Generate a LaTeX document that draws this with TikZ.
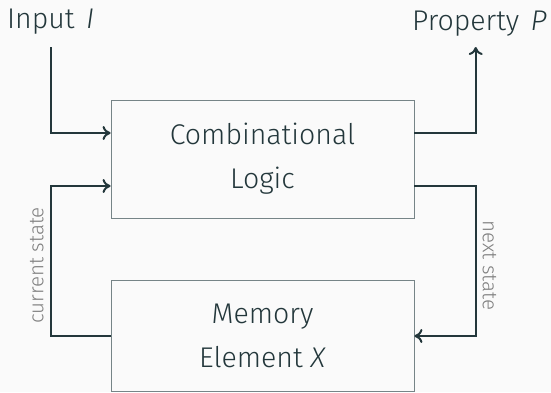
\documentclass[tikz,border=0pt]{standalone}
\usepackage{fontspec}
\setmainfont{Fira Sans}[UprightFont=* Light, ItalicFont=* Light Italic]
\usetikzlibrary{arrows.meta}
\definecolor{ink}{RGB}{35,55,59}
\definecolor{frame}{RGB}{118,132,135}
\definecolor{note}{RGB}{128,128,128}
\definecolor{paper}{RGB}{250,250,250}
\begin{document}
\begin{tikzpicture}[x=1pt,y=1pt,
  block/.style={draw=frame, line width=0.9pt, text=ink, align=center,
    inner sep=0pt, font=\fontsize{28.5}{44}\selectfont},
  io/.style={text=ink, inner sep=0pt, font=\fontsize{28.5}{34}\selectfont},
  wire/.style={draw=ink, line width=2pt},
  arrowed/.style={-{To[length=8pt,width=14pt]}},
  sidenote/.style={text=note, inner sep=6pt, sloped, anchor=south,
    font=\fontsize{20.5}{22}\selectfont}]
  % canvas
  \fill[paper] (0,0) rectangle (551,392);
  \useasboundingbox (0,0) rectangle (551,392);

  % blocks
  \node[block, minimum width=303pt, minimum height=118pt] (logic) at (262.5,233)
    {Combinational\\Logic};
  \node[block, minimum width=303pt, minimum height=111pt] (memory) at (262.5,56.5)
    {Memory\\Element \textit{X}};

  % terminals
  \node[io, anchor=base west] (input) at (7,363) {Input\hspace{0.12em} \textit{I}};
  \node[io, anchor=base east] (property) at (547,362) {Property\hspace{0.12em} \textit{P}};

  % routing points
  \coordinate (inTop) at (50.5,345);
  \coordinate (inCorner) at (50.5,259);
  \coordinate (outCorner) at (475.7,259);
  \coordinate (outTop) at (475.7,345);
  \coordinate (csBot) at (50.5,56);
  \coordinate (csTop) at (50.5,206);
  \coordinate (nsTop) at (475.7,206);
  \coordinate (nsBot) at (475.7,56);

  % input into the logic
  \draw[wire, arrowed] (inTop) -- (inCorner) -- (logic.west |- inCorner);
  % property out of the logic
  \draw[wire, arrowed] (logic.east |- outCorner) -- (outCorner) -- (outTop);
  % state feedback
  \draw[wire, arrowed] (memory.west |- csBot) -- (csBot)
    -- node[sidenote, pos=0.47] {current state} (csTop) -- (logic.west |- csTop);
  \draw[wire, arrowed] (logic.east |- nsTop) -- (nsTop)
    -- node[sidenote, pos=0.53] {next state} (nsBot) -- (memory.east |- nsBot);
\end{tikzpicture}
\end{document}
